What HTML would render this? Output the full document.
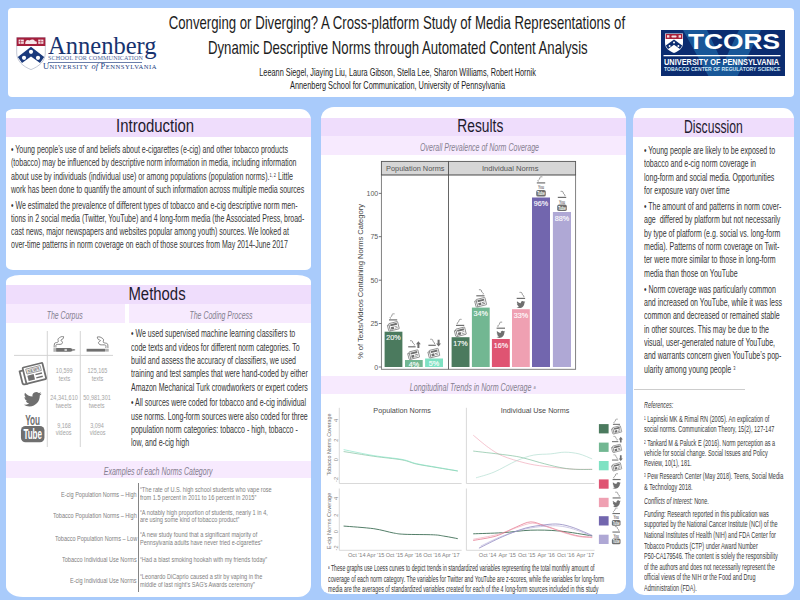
<!DOCTYPE html>
<html lang="en">
<head>
<meta charset="utf-8">
<title>Converging or Diverging? Poster</title>
<style>
html,body{margin:0;padding:0;}
body{width:800px;height:600px;overflow:hidden;background:#a9cbfb;position:relative;font-family:"Liberation Sans",sans-serif;color:#222;}
.panel{position:absolute;background:#fff;overflow:hidden;}
.band{position:absolute;background:#efddfc;}
.band2{position:absolute;background:#f7eafe;}
.t{position:absolute;white-space:nowrap;transform-origin:0 0;line-height:1;}
.ln{position:absolute;background:#bbb;}
sup{font-size:55%;vertical-align:baseline;position:relative;top:-.42em;line-height:0;}
svg{position:absolute;overflow:visible;}
</style>
</head>
<body>

<div class="panel" style="left:8px;top:8px;width:786px;height:89px;border-radius:4px;"></div>
<div class="panel" style="left:6.4px;top:109.2px;width:304.8px;height:160.8px;border-radius:9px 11px 6px 7px / 4px 11px 4px 5px;">
  <div class="band" style="left:0;right:0;top:8.7px;height:18.7px;"></div>
</div>
<div class="panel" style="left:6px;top:275.4px;width:305.2px;height:321.6px;border-radius:14px 14px 13px 17px / 7px 7px 12px 11px;">
  <div class="band" style="left:0;right:0;top:9.9px;height:18.7px;"></div>
  <div class="band2" style="left:0;width:119px;top:28.6px;height:19px;"></div>
  <div class="band2" style="left:123px;right:0;top:28.6px;height:19px;"></div>
  <div class="band2" style="left:0;right:0;top:185.5px;height:17.6px;"></div>
</div>
<div class="panel" style="left:321px;top:106.6px;width:305px;height:487.8px;border-radius:13px 14px 10px 10px / 12px 12px 10px 9px;">
  <div class="band" style="left:0;right:0;top:11.4px;height:18px;"></div>
  <div class="band2" style="left:0;right:0;top:29.4px;height:19.2px;"></div>
  <div class="band2" style="left:0;right:0;top:269.2px;height:18.7px;"></div>
</div>
<div class="panel" style="left:633.2px;top:107.5px;width:160.4px;height:487.1px;border-radius:10px 11px 12px 11px / 12px 11px 12px 10px;">
  <div class="band" style="left:0;right:0;top:10.8px;height:18.7px;"></div>
</div>
<div class="t" style="left:81.58px;top:14.39px;font-size:18.2px;transform:scaleX(0.7246);transform-origin:50% 0;color:#1c1c1c;">Converging or Diverging? A Cross-platform Study of Media Representations of</div>
<div class="t" style="left:136.20px;top:38.79px;font-size:18.2px;transform:scaleX(0.7252);transform-origin:50% 0;color:#1c1c1c;">Dynamic Descriptive Norms through Automated Content Analysis</div>
<div class="t" style="left:190.31px;top:67.29px;font-size:11px;transform:scaleX(0.6662);transform-origin:50% 0;color:#1c1c1c;">Leeann Siegel, Jiaying Liu, Laura Gibson, Stella Lee, Sharon Williams, Robert Hornik</div>
<div class="t" style="left:237.00px;top:79.89px;font-size:11px;transform:scaleX(0.6698);transform-origin:50% 0;color:#1c1c1c;">Annenberg School for Communication, University of Pennsylvania</div>

<!-- Annenberg logo -->
<svg style="left:16px;top:36px;" width="32" height="36" viewBox="0 0 32 36">
  <path d="M0.7 1.5 H29.3 V17 C29.3 25 23 30.5 15 33.6 C7 30.5 0.7 25 0.7 17 Z" fill="#fff" stroke="#aab2c4" stroke-width=".7"/>
  <path d="M0.7 1.5 H29.3 V10 H0.7 Z" fill="#a51f3c"/>
  <rect x="2.6" y="3.6" width="5.2" height="4.2" fill="#f6e6e9"/>
  <rect x="22.2" y="3.6" width="5.2" height="4.2" fill="#f6e6e9"/>
  <path d="M4.6 3.6 V7.8 M2.6 5.7 H7.8 M24.8 3.6 V7.8 M22.2 5.7 H27.4" stroke="#a51f3c" stroke-width=".6"/>
  <path d="M9.2 8 C9 4.6 11.5 3.2 13.6 4.6 C15.2 3 18.4 3.2 19 5.4 C20.4 4.6 21.4 6.2 20.6 8 Z" fill="#f6e6e9"/>
  <path d="M15 10.8 L28.2 21 L24 27 L15 20.6 L6 27 L1.8 21 Z" fill="#1b3a7c"/>
  <circle cx="15" cy="15.8" r="2.1" fill="#fff"/>
  <circle cx="8" cy="21.8" r="2.1" fill="#fff"/>
  <circle cx="22" cy="21.8" r="2.1" fill="#fff"/>
</svg>
<div class="t" style="left:47.5px;top:33.3px;font-family:'Liberation Serif',serif;font-size:25.7px;transform:scaleX(.955);color:#18336f;">Annenberg</div>
<div class="t" style="left:48px;top:56px;font-family:'Liberation Serif',serif;font-size:5.6px;transform:scaleX(1.1);color:#4d6499;letter-spacing:.1px;">SCHOOL FOR COMMUNICATION</div>
<div style="position:absolute;left:48px;top:61.7px;width:94px;height:.8px;background:#6a7eaa;"></div>
<div class="t" style="left:43px;top:62.8px;font-family:'Liberation Serif',serif;font-size:8.4px;color:#1b3c80;letter-spacing:.5px;">U<span style="font-size:6.6px">NIVERSITY</span> <i style="font-size:8.4px;letter-spacing:0">of</i> P<span style="font-size:6.6px">ENNSYLVANIA</span></div>

<!-- TCORS logo -->
<div style="position:absolute;left:661px;top:29.5px;width:123.5px;height:46.5px;background:#0b2c70;overflow:hidden;">
  <svg style="left:0;top:0;" width="124" height="47" viewBox="0 0 124 47">
    <path d="M22 0 L46 0 L62 34 L78 0 L100 0 L76 47 L48 47 Z" fill="#1c63a3" opacity=".8"/>
    <path d="M4 3.5 H22 V13 C22 18 18 21 13 23 C8 21 4 18 4 13 Z" fill="#fff"/>
    <path d="M4.6 4 H21.4 V9 H4.6 Z" fill="#a8203a"/>
    <path d="M13 9.6 L21.2 15.6 L19 19 L13 14.8 L7 19 L4.8 15.6 Z" fill="#0b2c70"/>
    <circle cx="13" cy="12.4" r="1" fill="#fff"/><circle cx="8.6" cy="16" r="1" fill="#fff"/><circle cx="17.4" cy="16" r="1" fill="#fff"/>
    <rect x="6" y="5.2" width="2.4" height="2.4" fill="#f4dfe2"/><rect x="17.6" y="5.2" width="2.4" height="2.4" fill="#f4dfe2"/><rect x="10.4" y="5.4" width="5.2" height="2.2" rx="1" fill="#f4dfe2"/>
    <rect x="2.5" y="25" width="117" height="1.3" fill="#fff"/>
  </svg>
  <div class="t" style="left:26.5px;top:1px;font-size:22.5px;font-weight:bold;color:#fff;transform:scaleX(1.17);">TCORS</div>
  <div class="t" style="left:2.6px;top:28.9px;font-size:8.4px;font-weight:bold;color:#fff;transform:scaleX(.881);">UNIVERSITY OF PENNSYLVANIA</div>
  <div class="t" style="left:3px;top:37.7px;font-size:5.4px;font-weight:bold;color:#d0e8f7;transform:scaleX(.94);">TOBACCO CENTER OF REGULATORY SCIENCE</div>
</div>
<div class="t" style="left:106.08px;top:117.49px;font-size:18.8px;transform:scaleX(0.7940);transform-origin:50% 0;color:#1e1a2e;">Introduction</div>
<div class="t" style="left:120.95px;top:284.69px;font-size:18.8px;transform:scaleX(0.7933);transform-origin:50% 0;color:#1e1a2e;">Methods</div>
<div class="t" style="left:449.26px;top:117.29px;font-size:18.8px;transform:scaleX(0.7338);transform-origin:50% 0;color:#1e1a2e;">Results</div>
<div class="t" style="left:667.95px;top:117.69px;font-size:18.8px;transform:scaleX(0.6469);transform-origin:50% 0;color:#1e1a2e;">Discussion</div>
<div class="t" style="left:11.00px;top:144.78px;font-size:10.3px;transform:scaleX(0.6843);color:#363636;">&#8226; Young people&#8217;s use of and beliefs about e-cigarettes (e-cig) and other tobacco products</div>
<div class="t" style="left:11.00px;top:158.18px;font-size:10.3px;transform:scaleX(0.6843);color:#363636;">(tobacco) may be influenced by descriptive norm information in media, including information</div>
<div class="t" style="left:11.00px;top:171.58px;font-size:10.3px;transform:scaleX(0.6884);color:#363636;">about use by individuals (individual use) or among populations (population norms).<sup>1, 2</sup> Little</div>
<div class="t" style="left:11.00px;top:184.78px;font-size:10.3px;transform:scaleX(0.6842);color:#363636;">work has been done to quantify the amount of such information across multiple media sources</div>
<div class="t" style="left:11.00px;top:201.18px;font-size:10.3px;transform:scaleX(0.6842);color:#363636;">&#8226; We estimated the prevalence of different types of tobacco and e-cig descriptive norm men-</div>
<div class="t" style="left:11.00px;top:214.18px;font-size:10.3px;transform:scaleX(0.6812);color:#363636;">tions in 2 social media (Twitter, YouTube) and 4 long-form media (the Associated Press, broad-</div>
<div class="t" style="left:11.00px;top:227.18px;font-size:10.3px;transform:scaleX(0.6842);color:#363636;">cast news, major newspapers and websites popular among youth) sources. We looked at</div>
<div class="t" style="left:11.00px;top:240.18px;font-size:10.3px;transform:scaleX(0.6814);color:#363636;">over-time patterns in norm coverage on each of those sources from May 2014-June 2017</div>
<div class="t" style="left:37.31px;top:310.33px;font-size:10.6px;transform:scaleX(0.6500);transform-origin:50% 0;color:#857f90;font-style:italic;">The Corpus</div>
<div class="t" style="left:173.48px;top:310.33px;font-size:10.6px;transform:scaleX(0.6560);transform-origin:50% 0;color:#857f90;font-style:italic;">The Coding Process</div>
<div class="t" style="left:75.62px;top:465.53px;font-size:10.6px;transform:scaleX(0.6619);transform-origin:50% 0;color:#857f90;font-style:italic;">Examples of each Norms Category</div>
<div class="t" style="left:131.20px;top:329.18px;font-size:10.3px;transform:scaleX(0.6834);color:#363636;">&#8226; We used supervised machine learning classifiers to</div>
<div class="t" style="left:131.20px;top:342.58px;font-size:10.3px;transform:scaleX(0.6819);color:#363636;">code texts and videos for different norm categories. To</div>
<div class="t" style="left:131.20px;top:355.88px;font-size:10.3px;transform:scaleX(0.6832);color:#363636;">build and assess the accuracy of classifiers, we used</div>
<div class="t" style="left:131.20px;top:369.18px;font-size:10.3px;transform:scaleX(0.6816);color:#363636;">training and test samples that were hand-coded by either</div>
<div class="t" style="left:131.20px;top:382.58px;font-size:10.3px;transform:scaleX(0.6818);color:#363636;">Amazon Mechanical Turk crowdworkers or expert coders</div>
<div class="t" style="left:131.20px;top:398.48px;font-size:10.3px;transform:scaleX(0.6805);color:#363636;">&#8226; All sources were coded for tobacco and e-cig individual</div>
<div class="t" style="left:131.20px;top:411.68px;font-size:10.3px;transform:scaleX(0.6832);color:#363636;">use norms. Long-form sources were also coded for three</div>
<div class="t" style="left:131.20px;top:424.78px;font-size:10.3px;transform:scaleX(0.6871);color:#363636;">population norm categories: tobacco - high, tobacco -</div>
<div class="t" style="left:131.20px;top:437.98px;font-size:10.3px;transform:scaleX(0.6804);color:#363636;">low, and e-cig high</div>
<div class="t" style="left:51.77px;top:367.03px;font-size:8px;transform:scaleX(0.6850);transform-origin:50% 0;color:#a4a4a4;">10,599</div>
<div class="t" style="left:55.55px;top:374.63px;font-size:8px;transform:scaleX(0.6850);transform-origin:50% 0;color:#a4a4a4;">texts</div>
<div class="t" style="left:82.84px;top:367.03px;font-size:8px;transform:scaleX(0.6850);transform-origin:50% 0;color:#a4a4a4;">125,165</div>
<div class="t" style="left:88.85px;top:374.63px;font-size:8px;transform:scaleX(0.6850);transform-origin:50% 0;color:#a4a4a4;">texts</div>
<div class="t" style="left:43.98px;top:393.83px;font-size:8px;transform:scaleX(0.6850);transform-origin:50% 0;color:#a4a4a4;">24,341,610</div>
<div class="t" style="left:52.44px;top:402.03px;font-size:8px;transform:scaleX(0.6850);transform-origin:50% 0;color:#a4a4a4;">tweets</div>
<div class="t" style="left:76.58px;top:393.83px;font-size:8px;transform:scaleX(0.6850);transform-origin:50% 0;color:#a4a4a4;">50,981,301</div>
<div class="t" style="left:85.04px;top:402.03px;font-size:8px;transform:scaleX(0.6850);transform-origin:50% 0;color:#a4a4a4;">tweets</div>
<div class="t" style="left:53.99px;top:421.63px;font-size:8px;transform:scaleX(0.6850);transform-origin:50% 0;color:#a4a4a4;">9,168</div>
<div class="t" style="left:52.44px;top:429.43px;font-size:8px;transform:scaleX(0.6850);transform-origin:50% 0;color:#a4a4a4;">videos</div>
<div class="t" style="left:87.29px;top:421.63px;font-size:8px;transform:scaleX(0.6850);transform-origin:50% 0;color:#a4a4a4;">3,094</div>
<div class="t" style="left:85.74px;top:429.43px;font-size:8px;transform:scaleX(0.6850);transform-origin:50% 0;color:#a4a4a4;">videos</div>
<div class="t" style="left:61.10px;top:490.57px;font-size:7.6px;transform:scaleX(0.7285);color:#808080;">E-cig Population Norms &#8211; High</div>
<div class="t" style="left:53.00px;top:512.47px;font-size:7.6px;transform:scaleX(0.7293);color:#808080;">Tobacco Population Norms &#8211; High</div>
<div class="t" style="left:54.60px;top:535.27px;font-size:7.6px;transform:scaleX(0.7260);color:#808080;">Tobacco Population Norms &#8211; Low</div>
<div class="t" style="left:62.10px;top:555.97px;font-size:7.6px;transform:scaleX(0.7278);color:#808080;">Tobacco Individual Use Norms</div>
<div class="t" style="left:70.20px;top:577.47px;font-size:7.6px;transform:scaleX(0.7267);color:#808080;">E-cig Individual Use Norms</div>
<div class="t" style="left:139.60px;top:486.07px;font-size:7.6px;transform:scaleX(0.7358);color:#808080;">&#8220;The rate of U.S. high school students who vape rose</div>
<div class="t" style="left:139.60px;top:493.77px;font-size:7.6px;transform:scaleX(0.7373);color:#808080;">from 1.5 percent in 2011 to 16 percent in 2015&#8221;</div>
<div class="t" style="left:139.60px;top:508.87px;font-size:7.6px;transform:scaleX(0.7366);color:#808080;">&#8220;A notably high proportion of students, nearly 1 in 4,</div>
<div class="t" style="left:139.60px;top:516.07px;font-size:7.6px;transform:scaleX(0.7353);color:#808080;">are using some kind of tobacco product&#8221;</div>
<div class="t" style="left:139.60px;top:530.97px;font-size:7.6px;transform:scaleX(0.7391);color:#808080;">&#8220;A new study found that a significant majority of</div>
<div class="t" style="left:139.60px;top:538.87px;font-size:7.6px;transform:scaleX(0.7262);color:#808080;">Pennsylvania adults have never tried e-cigarettes&#8221;</div>
<div class="t" style="left:139.60px;top:555.97px;font-size:7.6px;transform:scaleX(0.7291);color:#808080;">&#8220;Had a blast smoking hookah with my friends today&#8221;</div>
<div class="t" style="left:139.60px;top:573.37px;font-size:7.6px;transform:scaleX(0.7335);color:#808080;">&#8220;Leonardo DiCaprio caused a stir by vaping in the</div>
<div class="t" style="left:139.60px;top:581.07px;font-size:7.6px;transform:scaleX(0.7312);color:#808080;">middle of last night&#8217;s SAG&#8217;s Awards ceremony&#8221;</div>
<div class="ln" style="left:137.8px;top:482.5px;width:.9px;height:109.5px;background:#858585;"></div>
<div class="t" style="left:390.45px;top:142.33px;font-size:10.6px;transform:scaleX(0.6644);transform-origin:50% 0;color:#857f90;font-style:italic;">Overall Prevalence of Norm Coverage</div>
<div class="t" style="left:379.27px;top:382.03px;font-size:10.6px;transform:scaleX(0.6721);transform-origin:50% 0;color:#857f90;font-style:italic;">Longitudinal Trends in Norm Coverage <sup>a</sup></div>
<div class="t" style="left:327.70px;top:564.07px;font-size:8.3px;transform:scaleX(0.6252);color:#333;"><sup>a</sup> These graphs use Loess curves to depict trends in standardized variables representing the total monthly amount of</div>
<div class="t" style="left:327.70px;top:574.57px;font-size:8.3px;transform:scaleX(0.6389);color:#333;">coverage of each norm category. The variables for Twitter and YouTube are z-scores, while the variables for long-form</div>
<div class="t" style="left:327.70px;top:584.57px;font-size:8.3px;transform:scaleX(0.6408);color:#333;">media are the averages of standardized variables created for each of the 4 long-form sources included in this study</div>
<div class="t" style="left:643.60px;top:146.18px;font-size:10.3px;transform:scaleX(0.6848);color:#363636;">&#8226; Young people are likely to be exposed to</div>
<div class="t" style="left:643.60px;top:159.38px;font-size:10.3px;transform:scaleX(0.6840);color:#363636;">tobacco and e-cig norm coverage in</div>
<div class="t" style="left:643.60px;top:172.68px;font-size:10.3px;transform:scaleX(0.6840);color:#363636;">long-form and social media. Opportunities</div>
<div class="t" style="left:643.60px;top:185.88px;font-size:10.3px;transform:scaleX(0.6859);color:#363636;">for exposure vary over time</div>
<div class="t" style="left:643.60px;top:201.98px;font-size:10.3px;transform:scaleX(0.6823);color:#363636;">&#8226; The amount of and patterns in norm cover-</div>
<div class="t" style="left:643.60px;top:215.38px;font-size:10.3px;transform:scaleX(0.6833);color:#363636;">age&nbsp; differed by platform but not necessarily</div>
<div class="t" style="left:643.60px;top:228.68px;font-size:10.3px;transform:scaleX(0.6827);color:#363636;">by type of platform (e.g. social vs. long-form</div>
<div class="t" style="left:643.60px;top:241.98px;font-size:10.3px;transform:scaleX(0.6862);color:#363636;">media). Patterns of norm coverage on Twit-</div>
<div class="t" style="left:643.60px;top:255.28px;font-size:10.3px;transform:scaleX(0.6827);color:#363636;">ter were more similar to those in long-form</div>
<div class="t" style="left:643.60px;top:268.68px;font-size:10.3px;transform:scaleX(0.6858);color:#363636;">media than those on YouTube</div>
<div class="t" style="left:643.60px;top:284.98px;font-size:10.3px;transform:scaleX(0.6832);color:#363636;">&#8226; Norm coverage was particularly common</div>
<div class="t" style="left:643.60px;top:298.18px;font-size:10.3px;transform:scaleX(0.6840);color:#363636;">and increased on YouTube, while it was less</div>
<div class="t" style="left:643.60px;top:311.48px;font-size:10.3px;transform:scaleX(0.6835);color:#363636;">common and decreased or remained stable</div>
<div class="t" style="left:643.60px;top:324.78px;font-size:10.3px;transform:scaleX(0.6808);color:#363636;">in other sources. This may be due to the</div>
<div class="t" style="left:643.60px;top:338.08px;font-size:10.3px;transform:scaleX(0.6848);color:#363636;">visual, user-generated nature of YouTube,</div>
<div class="t" style="left:643.60px;top:351.38px;font-size:10.3px;transform:scaleX(0.6856);color:#363636;">and warrants concern given YouTube&#8217;s pop-</div>
<div class="t" style="left:643.60px;top:364.68px;font-size:10.3px;transform:scaleX(0.6895);color:#363636;">ularity among young people <sup>3</sup></div>
<div class="ln" style="left:634px;top:388.8px;width:111px;height:1px;background:#cdcdcd;"></div>
<div class="t" style="left:644.00px;top:401.29px;font-size:8.4px;transform:scaleX(0.6469);color:#3a3a3a;font-style:italic;">References:</div>
<div class="t" style="left:644.00px;top:414.69px;font-size:8.4px;transform:scaleX(0.6640);color:#3a3a3a;"><sup>1</sup> Lapinski MK &amp; Rimal RN (2005). An explication of</div>
<div class="t" style="left:644.00px;top:425.19px;font-size:8.4px;transform:scaleX(0.6613);color:#3a3a3a;">social norms. Communication Theory, 15(2), 127-147</div>
<div class="t" style="left:644.00px;top:438.59px;font-size:8.4px;transform:scaleX(0.6609);color:#3a3a3a;"><sup>2</sup> Tankard M &amp; Paluck E (2016). Norm perception as a</div>
<div class="t" style="left:644.00px;top:448.99px;font-size:8.4px;transform:scaleX(0.6633);color:#3a3a3a;">vehicle for social change. Social Issues and Policy</div>
<div class="t" style="left:644.00px;top:459.29px;font-size:8.4px;transform:scaleX(0.6591);color:#3a3a3a;">Review, 10(1), 181.</div>
<div class="t" style="left:644.00px;top:472.19px;font-size:8.4px;transform:scaleX(0.6603);color:#3a3a3a;"><sup>3</sup> Pew Research Center (May 2018). Teens, Social Media</div>
<div class="t" style="left:644.00px;top:482.89px;font-size:8.4px;transform:scaleX(0.6627);color:#3a3a3a;">&amp; Technology 2018.</div>
<div class="t" style="left:644.00px;top:496.59px;font-size:8.4px;transform:scaleX(0.6567);color:#3a3a3a;"><i>Conflicts of Interest:</i> None.</div>
<div class="t" style="left:644.00px;top:509.79px;font-size:8.4px;transform:scaleX(0.6637);color:#3a3a3a;"><i>Funding:</i> Research reported in this publication was</div>
<div class="t" style="left:644.00px;top:520.49px;font-size:8.4px;transform:scaleX(0.6618);color:#3a3a3a;">supported by the National Cancer Institute (NCI) of the</div>
<div class="t" style="left:644.00px;top:531.09px;font-size:8.4px;transform:scaleX(0.6616);color:#3a3a3a;">National Institutes of Health (NIH) and FDA Center for</div>
<div class="t" style="left:644.00px;top:541.69px;font-size:8.4px;transform:scaleX(0.6593);color:#3a3a3a;">Tobacco Products (CTP) under Award Number</div>
<div class="t" style="left:644.00px;top:552.29px;font-size:8.4px;transform:scaleX(0.6592);color:#3a3a3a;">P50-CA179546. The content is solely the responsibility</div>
<div class="t" style="left:644.00px;top:562.89px;font-size:8.4px;transform:scaleX(0.6606);color:#3a3a3a;">of the authors and does not necessarily represent the</div>
<div class="t" style="left:644.00px;top:573.29px;font-size:8.4px;transform:scaleX(0.6603);color:#3a3a3a;">official views of the NIH or the Food and Drug</div>
<div class="t" style="left:644.00px;top:583.69px;font-size:8.4px;transform:scaleX(0.6602);color:#3a3a3a;">Administration (FDA).</div>
<svg style="left:0;top:0;" width="800" height="600" viewBox="0 0 800 600" font-family="Liberation Sans, sans-serif"><rect x="46.8" y="331" width=".9" height="116" fill="#cfcfcf"/><rect x="79.8" y="331" width=".9" height="116" fill="#cfcfcf"/><rect x="14" y="354.9" width="99" height=".9" fill="#cfcfcf"/><g transform="translate(53.70 351.80) scale(1.0000)"><rect x="0" y="-3.7" width=".7" height="3.7" fill="#6f6f6f"/><rect x="1.1" y="-3.7" width=".7" height="3.7" fill="#6f6f6f"/><path d="M2.4 -3.7 H16.6 L19 -2.9 V-.8 L16.6 0 H2.4 Z" fill="#6f6f6f"/><rect x="10.8" y="-2.9" width="2.4" height="2.1" fill="#cfcfcf"/><path d="M19.4 -2.7 L21.5 -2.2 V-1.5 L19.4 -1 Z" fill="#6f6f6f"/><path d="M0.5 -4.7 C0.6 -5.3 0.3 -7.6 0.9 -8.5 C1.6 -9.3 3.8 -9.1 4.4 -9.8 C5.0 -10.5 3.9 -12.0 4.4 -12.9 C4.9 -13.7 6.6 -14.7 7.5 -15.1 C8.4 -15.4 9.3 -15.1 9.7 -15.1" fill="none" stroke="#6f6f6f" stroke-width="0.85" stroke-linecap="round"/><path d="M2.3 -4.7 C2.4 -5.1 1.8 -6.7 2.7 -7.2 C3.5 -7.7 6.5 -7.2 7.5 -7.6 C8.5 -8.0 8.9 -9.1 8.8 -9.8 C8.7 -10.5 7.0 -11.0 7.0 -11.6 C7.1 -12.1 8.8 -12.4 9.2 -12.9 C9.7 -13.4 9.7 -14.3 9.8 -14.6" fill="none" stroke="#6f6f6f" stroke-width="0.85" stroke-linecap="round"/></g><g transform="translate(86.60 351.60) scale(1.0000)"><rect x="0" y="-2.8" width="18.4" height="2.8" fill="#6f6f6f"/><rect x="18.9" y="-2.8" width=".8" height="2.8" fill="#6f6f6f"/><rect x="20.1" y="-2.8" width=".7" height="2.8" fill="#6f6f6f"/><rect x="21.2" y="-2.8" width=".6" height="2.8" fill="#6f6f6f"/><path d="M21.3 -3.9 C21.2 -4.6 21.5 -7.0 20.8 -7.8 C20.0 -8.7 17.5 -8.4 16.8 -9.2 C16.2 -9.9 17.4 -11.4 16.8 -12.3 C16.3 -13.2 14.4 -14.2 13.4 -14.6 C12.4 -15.0 11.4 -14.6 11.0 -14.6" fill="none" stroke="#6f6f6f" stroke-width="0.85" stroke-linecap="round"/><path d="M19.2 -3.9 C19.2 -4.4 19.8 -6.0 18.8 -6.5 C17.8 -7.0 14.6 -6.5 13.4 -6.9 C12.3 -7.4 11.9 -8.5 11.9 -9.2 C12.0 -9.9 14.0 -10.5 13.9 -11.0 C13.8 -11.5 12.0 -11.8 11.5 -12.3 C10.9 -12.9 10.9 -13.8 10.8 -14.1" fill="none" stroke="#6f6f6f" stroke-width="0.85" stroke-linecap="round"/></g><g transform="translate(32.60 373.80) rotate(-14) scale(0.9286) translate(-14 -10)"><path d="M1 4 H6 V19 H3 C1.8 19 1 18.2 1 17 Z" fill="#fff" stroke="#6f6f6f" stroke-width="1.9" stroke-linejoin="round"/><rect x="5" y="1" width="22" height="18" rx="1" fill="#fff" stroke="#6f6f6f" stroke-width="1.9"/><rect x="8" y="3.4" width="16" height="5.4" fill="#fff" stroke="#6f6f6f" stroke-width=".7"/><text x="16" y="7.9" font-size="5" font-weight="bold" font-style="italic" fill="#6f6f6f" text-anchor="middle" font-family="Liberation Sans, sans-serif" textLength="13.6" lengthAdjust="spacingAndGlyphs">NEWS</text><rect x="8" y="10.6" width="7" height="6" fill="#6f6f6f"/><rect x="16.8" y="10.8" width="7.2" height="1.6" fill="#6f6f6f"/><rect x="16.8" y="14.4" width="7.2" height="1.6" fill="#6f6f6f"/></g><g transform="translate(32.70 399.20) rotate(0) scale(0.7417) translate(-12 -12)"><path d="M23.953 4.57a10 10 0 01-2.825.775 4.958 4.958 0 002.163-2.723c-.951.555-2.005.959-3.127 1.184a4.92 4.92 0 00-8.384 4.482C7.69 8.095 4.067 6.13 1.64 3.162a4.822 4.822 0 00-.666 2.475c0 1.71.87 3.213 2.188 4.096a4.904 4.904 0 01-2.228-.616v.06a4.923 4.923 0 003.946 4.827 4.996 4.996 0 01-2.212.085 4.936 4.936 0 004.604 3.417 9.867 9.867 0 01-6.102 2.105c-.39 0-.779-.023-1.17-.067a13.995 13.995 0 007.557 2.209c9.053 0 13.998-7.496 13.998-13.985 0-.21 0-.42-.015-.63A9.935 9.935 0 0024 4.59z" fill="#6f6f6f"/></g><g transform="translate(32.70 428.40) rotate(0) scale(0.9792) translate(-12 -14.2)"><text x="12" y="10.4" font-size="14.6" font-weight="bold" fill="#6f6f6f" text-anchor="middle" font-family="Liberation Sans, sans-serif" textLength="15.2" lengthAdjust="spacingAndGlyphs">You</text><rect x="0" y="11.8" width="24" height="16.6" rx="4.6" fill="#6f6f6f"/><text x="12" y="25.4" font-size="14.2" font-weight="bold" fill="#fff" text-anchor="middle" font-family="Liberation Sans, sans-serif" textLength="19" lengthAdjust="spacingAndGlyphs">Tube</text></g><rect x="381.4" y="174.9" width="194.2" height="194.4" fill="#fff" stroke="#757575" stroke-width=".9"/><rect x="381.4" y="161.4" width="67.1" height="13.5" fill="#d6d6d6" stroke="#555" stroke-width=".9"/><rect x="448.5" y="161.4" width="127.1" height="13.5" fill="#d6d6d6" stroke="#555" stroke-width=".9"/><rect x="448.1" y="174.9" width=".9" height="194.4" fill="#555"/><text x="415.3" y="171" font-size="7.4" fill="#555" text-anchor="middle" textLength="58.5" lengthAdjust="spacingAndGlyphs">Population Norms</text><text x="510.2" y="171" font-size="7.4" fill="#555" text-anchor="middle" textLength="56.5" lengthAdjust="spacingAndGlyphs">Individual Norms</text><rect x="378.8" y="366.60" width="2.6" height=".8" fill="#555"/><text x="378.2" y="369.60" font-size="7" fill="#5a5a5a" text-anchor="end">0</text><rect x="378.8" y="323.18" width="2.6" height=".8" fill="#555"/><text x="378.2" y="326.18" font-size="7" fill="#5a5a5a" text-anchor="end">25</text><rect x="378.8" y="279.75" width="2.6" height=".8" fill="#555"/><text x="378.2" y="282.75" font-size="7" fill="#5a5a5a" text-anchor="end">50</text><rect x="378.8" y="236.32" width="2.6" height=".8" fill="#555"/><text x="378.2" y="239.32" font-size="7" fill="#5a5a5a" text-anchor="end">75</text><rect x="378.8" y="192.90" width="2.6" height=".8" fill="#555"/><text x="378.2" y="195.90" font-size="7" fill="#5a5a5a" text-anchor="end">100</text><text transform="translate(363.3 281.5) rotate(-90)" font-size="7.6" fill="#444" text-anchor="middle" textLength="155" lengthAdjust="spacingAndGlyphs">% of Texts/Videos Containing Norms Category</text><rect x="384.6" y="331.7" width="17.80" height="35.30" fill="#4b7a5e"/><text x="393.50" y="340.40" font-size="7.2" fill="#fff" fill-opacity=".95" stroke="#fff" stroke-width=".15" text-anchor="middle">20%</text><rect x="405" y="360" width="17.70" height="7.00" fill="#72b792"/><text x="413.85" y="367.40" font-size="7.2" fill="#fff" fill-opacity=".95" stroke="#fff" stroke-width=".15" text-anchor="middle">4%</text><rect x="425.1" y="358.5" width="17.90" height="8.50" fill="#7fe2c3"/><text x="434.05" y="365.90" font-size="7.2" fill="#fff" fill-opacity=".95" stroke="#fff" stroke-width=".15" text-anchor="middle">5%</text><rect x="451.6" y="337.2" width="17.90" height="29.80" fill="#4b7a5e"/><text x="460.55" y="345.90" font-size="7.2" fill="#fff" fill-opacity=".95" stroke="#fff" stroke-width=".15" text-anchor="middle">17%</text><rect x="471.9" y="307.6" width="17.80" height="59.40" fill="#72b792"/><text x="480.80" y="316.30" font-size="7.2" fill="#fff" fill-opacity=".95" stroke="#fff" stroke-width=".15" text-anchor="middle">34%</text><rect x="491.9" y="339" width="17.90" height="28.00" fill="#df5472"/><text x="500.85" y="347.70" font-size="7.2" fill="#fff" fill-opacity=".95" stroke="#fff" stroke-width=".15" text-anchor="middle">16%</text><rect x="512" y="309.2" width="17.80" height="57.80" fill="#efa0b2"/><text x="520.90" y="317.90" font-size="7.2" fill="#fff" fill-opacity=".95" stroke="#fff" stroke-width=".15" text-anchor="middle">33%</text><rect x="532" y="197.5" width="18.00" height="169.50" fill="#7266ae"/><text x="541.00" y="206.20" font-size="7.2" fill="#fff" fill-opacity=".95" stroke="#fff" stroke-width=".15" text-anchor="middle">96%</text><rect x="552.9" y="212" width="18.10" height="155.00" fill="#afa8d5"/><text x="561.95" y="220.70" font-size="7.2" fill="#fff" fill-opacity=".95" stroke="#fff" stroke-width=".15" text-anchor="middle">88%</text><g transform="translate(393.20 326.40) rotate(-14) scale(0.4143) translate(-14 -10)"><path d="M1 4 H6 V19 H3 C1.8 19 1 18.2 1 17 Z" fill="#fff" stroke="#6f6f6f" stroke-width="1.7" stroke-linejoin="round"/><rect x="5" y="1" width="22" height="18" rx="1" fill="#fff" stroke="#6f6f6f" stroke-width="1.7"/><rect x="7.8" y="3.6" width="16.4" height="4.6" fill="#6f6f6f"/><rect x="8" y="10.6" width="7" height="6" fill="#6f6f6f"/><rect x="16.8" y="10.8" width="7.2" height="1.6" fill="#6f6f6f"/><rect x="16.8" y="14.4" width="7.2" height="1.6" fill="#6f6f6f"/></g><g transform="translate(393.10 319.90) scale(1 1)"><rect x="-4.10" y="-.6" width="8.20" height="1.2" fill="#6f6f6f"/><path d="M-2.90 -1.6 c-1.2 -1.4 2.3 -1.6 1.8 -3.2 c-.3 -.9 1 -1.5 2.2 -1.3" fill="none" stroke="#6f6f6f" stroke-width=".7" stroke-linecap="round"/></g><g transform="translate(413.50 354.70) rotate(-14) scale(0.4143) translate(-14 -10)"><path d="M1 4 H6 V19 H3 C1.8 19 1 18.2 1 17 Z" fill="#fff" stroke="#6f6f6f" stroke-width="1.7" stroke-linejoin="round"/><rect x="5" y="1" width="22" height="18" rx="1" fill="#fff" stroke="#6f6f6f" stroke-width="1.7"/><rect x="7.8" y="3.6" width="16.4" height="4.6" fill="#6f6f6f"/><rect x="8" y="10.6" width="7" height="6" fill="#6f6f6f"/><rect x="16.8" y="10.8" width="7.2" height="1.6" fill="#6f6f6f"/><rect x="16.8" y="14.4" width="7.2" height="1.6" fill="#6f6f6f"/></g><g transform="translate(411.90 346.80) scale(-1 1)"><rect x="-3.70" y="-.6" width="7.40" height="1.2" fill="#6f6f6f"/><path d="M-2.50 -1.6 c-1.2 -1.4 2.3 -1.6 1.8 -3.2 c-.3 -.9 1 -1.5 2.2 -1.3" fill="none" stroke="#6f6f6f" stroke-width=".7" stroke-linecap="round"/></g><g transform="translate(418.40 344.60) rotate(0)"><path d="M0 -3.4 L2.4 -.3 H1 V3.3 H-1 V-.3 H-2.4 Z" fill="#6f6f6f"/></g><g transform="translate(433.70 353.20) rotate(-14) scale(0.4143) translate(-14 -10)"><path d="M1 4 H6 V19 H3 C1.8 19 1 18.2 1 17 Z" fill="#fff" stroke="#6f6f6f" stroke-width="1.7" stroke-linejoin="round"/><rect x="5" y="1" width="22" height="18" rx="1" fill="#fff" stroke="#6f6f6f" stroke-width="1.7"/><rect x="7.8" y="3.6" width="16.4" height="4.6" fill="#6f6f6f"/><rect x="8" y="10.6" width="7" height="6" fill="#6f6f6f"/><rect x="16.8" y="10.8" width="7.2" height="1.6" fill="#6f6f6f"/><rect x="16.8" y="14.4" width="7.2" height="1.6" fill="#6f6f6f"/></g><g transform="translate(432.10 345.30) scale(-1 1)"><rect x="-3.70" y="-.6" width="7.40" height="1.2" fill="#6f6f6f"/><path d="M-2.50 -1.6 c-1.2 -1.4 2.3 -1.6 1.8 -3.2 c-.3 -.9 1 -1.5 2.2 -1.3" fill="none" stroke="#6f6f6f" stroke-width=".7" stroke-linecap="round"/></g><g transform="translate(438.60 343.10) rotate(180)"><path d="M0 -3.4 L2.4 -.3 H1 V3.3 H-1 V-.3 H-2.4 Z" fill="#6f6f6f"/></g><g transform="translate(460.20 331.90) rotate(-14) scale(0.4143) translate(-14 -10)"><path d="M1 4 H6 V19 H3 C1.8 19 1 18.2 1 17 Z" fill="#fff" stroke="#6f6f6f" stroke-width="1.7" stroke-linejoin="round"/><rect x="5" y="1" width="22" height="18" rx="1" fill="#fff" stroke="#6f6f6f" stroke-width="1.7"/><rect x="7.8" y="3.6" width="16.4" height="4.6" fill="#6f6f6f"/><rect x="8" y="10.6" width="7" height="6" fill="#6f6f6f"/><rect x="16.8" y="10.8" width="7.2" height="1.6" fill="#6f6f6f"/><rect x="16.8" y="14.4" width="7.2" height="1.6" fill="#6f6f6f"/></g><g transform="translate(460.10 325.40) scale(1 1)"><rect x="-4.10" y="-.6" width="8.20" height="1.2" fill="#6f6f6f"/><path d="M-2.90 -1.6 c-1.2 -1.4 2.3 -1.6 1.8 -3.2 c-.3 -.9 1 -1.5 2.2 -1.3" fill="none" stroke="#6f6f6f" stroke-width=".7" stroke-linecap="round"/></g><g transform="translate(480.50 302.30) rotate(-14) scale(0.4143) translate(-14 -10)"><path d="M1 4 H6 V19 H3 C1.8 19 1 18.2 1 17 Z" fill="#fff" stroke="#6f6f6f" stroke-width="1.7" stroke-linejoin="round"/><rect x="5" y="1" width="22" height="18" rx="1" fill="#fff" stroke="#6f6f6f" stroke-width="1.7"/><rect x="7.8" y="3.6" width="16.4" height="4.6" fill="#6f6f6f"/><rect x="8" y="10.6" width="7" height="6" fill="#6f6f6f"/><rect x="16.8" y="10.8" width="7.2" height="1.6" fill="#6f6f6f"/><rect x="16.8" y="14.4" width="7.2" height="1.6" fill="#6f6f6f"/></g><g transform="translate(480.40 295.80) scale(-1 1)"><rect x="-4.10" y="-.6" width="8.20" height="1.2" fill="#6f6f6f"/><path d="M-2.90 -1.6 c-1.2 -1.4 2.3 -1.6 1.8 -3.2 c-.3 -.9 1 -1.5 2.2 -1.3" fill="none" stroke="#6f6f6f" stroke-width=".7" stroke-linecap="round"/></g><g transform="translate(500.80 334.30) rotate(0) scale(0.3667) translate(-12 -12)"><path d="M23.953 4.57a10 10 0 01-2.825.775 4.958 4.958 0 002.163-2.723c-.951.555-2.005.959-3.127 1.184a4.92 4.92 0 00-8.384 4.482C7.69 8.095 4.067 6.13 1.64 3.162a4.822 4.822 0 00-.666 2.475c0 1.71.87 3.213 2.188 4.096a4.904 4.904 0 01-2.228-.616v.06a4.923 4.923 0 003.946 4.827 4.996 4.996 0 01-2.212.085 4.936 4.936 0 004.604 3.417 9.867 9.867 0 01-6.102 2.105c-.39 0-.779-.023-1.17-.067a13.995 13.995 0 007.557 2.209c9.053 0 13.998-7.496 13.998-13.985 0-.21 0-.42-.015-.63A9.935 9.935 0 0024 4.59z" fill="#6f6f6f"/></g><g transform="translate(500.80 328.20) scale(1 1)"><rect x="-4.20" y="-.6" width="8.40" height="1.2" fill="#6f6f6f"/><path d="M-3.00 -1.6 c-1.2 -1.4 2.3 -1.6 1.8 -3.2 c-.3 -.9 1 -1.5 2.2 -1.3" fill="none" stroke="#6f6f6f" stroke-width=".7" stroke-linecap="round"/></g><g transform="translate(520.90 304.50) rotate(0) scale(0.3667) translate(-12 -12)"><path d="M23.953 4.57a10 10 0 01-2.825.775 4.958 4.958 0 002.163-2.723c-.951.555-2.005.959-3.127 1.184a4.92 4.92 0 00-8.384 4.482C7.69 8.095 4.067 6.13 1.64 3.162a4.822 4.822 0 00-.666 2.475c0 1.71.87 3.213 2.188 4.096a4.904 4.904 0 01-2.228-.616v.06a4.923 4.923 0 003.946 4.827 4.996 4.996 0 01-2.212.085 4.936 4.936 0 004.604 3.417 9.867 9.867 0 01-6.102 2.105c-.39 0-.779-.023-1.17-.067a13.995 13.995 0 007.557 2.209c9.053 0 13.998-7.496 13.998-13.985 0-.21 0-.42-.015-.63A9.935 9.935 0 0024 4.59z" fill="#6f6f6f"/></g><g transform="translate(520.90 298.40) scale(-1 1)"><rect x="-4.20" y="-.6" width="8.40" height="1.2" fill="#6f6f6f"/><path d="M-3.00 -1.6 c-1.2 -1.4 2.3 -1.6 1.8 -3.2 c-.3 -.9 1 -1.5 2.2 -1.3" fill="none" stroke="#6f6f6f" stroke-width=".7" stroke-linecap="round"/></g><g transform="translate(541.00 190.90) rotate(0) scale(0.4000) translate(-12 -14.2)"><text x="12" y="10.4" font-size="14.6" font-weight="bold" fill="#6f6f6f" text-anchor="middle" font-family="Liberation Sans, sans-serif" textLength="15.2" lengthAdjust="spacingAndGlyphs">You</text><rect x="0" y="11.8" width="24" height="16.6" rx="4.6" fill="#6f6f6f"/><text x="12" y="25.4" font-size="14.2" font-weight="bold" fill="#fff" text-anchor="middle" font-family="Liberation Sans, sans-serif" textLength="19" lengthAdjust="spacingAndGlyphs">Tube</text></g><g transform="translate(541.00 182.90) scale(1 1)"><rect x="-4.20" y="-.6" width="8.40" height="1.2" fill="#6f6f6f"/><path d="M-3.00 -1.6 c-1.2 -1.4 2.3 -1.6 1.8 -3.2 c-.3 -.9 1 -1.5 2.2 -1.3" fill="none" stroke="#6f6f6f" stroke-width=".7" stroke-linecap="round"/></g><g transform="translate(562.00 205.40) rotate(0) scale(0.4000) translate(-12 -14.2)"><text x="12" y="10.4" font-size="14.6" font-weight="bold" fill="#6f6f6f" text-anchor="middle" font-family="Liberation Sans, sans-serif" textLength="15.2" lengthAdjust="spacingAndGlyphs">You</text><rect x="0" y="11.8" width="24" height="16.6" rx="4.6" fill="#6f6f6f"/><text x="12" y="25.4" font-size="14.2" font-weight="bold" fill="#fff" text-anchor="middle" font-family="Liberation Sans, sans-serif" textLength="19" lengthAdjust="spacingAndGlyphs">Tube</text></g><g transform="translate(562.00 197.40) scale(-1 1)"><rect x="-4.20" y="-.6" width="8.40" height="1.2" fill="#6f6f6f"/><path d="M-3.00 -1.6 c-1.2 -1.4 2.3 -1.6 1.8 -3.2 c-.3 -.9 1 -1.5 2.2 -1.3" fill="none" stroke="#6f6f6f" stroke-width=".7" stroke-linecap="round"/></g><path d="M339.3 407.8 V483.5 H461.6" fill="none" stroke="#cfcfcf" stroke-width=".8"/><path d="M339.3 488.5 V550.3 H461.6" fill="none" stroke="#cfcfcf" stroke-width=".8"/><path d="M466.4 407.8 V483.5 H594.6" fill="none" stroke="#cfcfcf" stroke-width=".8"/><path d="M466.4 488.5 V550.3 H594.6" fill="none" stroke="#cfcfcf" stroke-width=".8"/><text x="402.1" y="413.3" font-size="7.4" fill="#4a4a4a" text-anchor="middle" textLength="57.5" lengthAdjust="spacingAndGlyphs">Population Norms</text><text x="535.1" y="413.3" font-size="7.4" fill="#4a4a4a" text-anchor="middle" textLength="68.6" lengthAdjust="spacingAndGlyphs">Individual Use Norms</text><text transform="translate(337.6 420.5) rotate(-90)" font-size="5.6" fill="#8a8a8a" text-anchor="middle">4</text><text transform="translate(337.6 440.3) rotate(-90)" font-size="5.6" fill="#8a8a8a" text-anchor="middle">2</text><text transform="translate(337.6 459.7) rotate(-90)" font-size="5.6" fill="#8a8a8a" text-anchor="middle">0</text><text transform="translate(337.6 479.4) rotate(-90)" font-size="5.6" fill="#8a8a8a" text-anchor="middle">-2</text><text transform="translate(337.6 498.4) rotate(-90)" font-size="5.6" fill="#8a8a8a" text-anchor="middle">4</text><text transform="translate(337.6 515.2) rotate(-90)" font-size="5.6" fill="#8a8a8a" text-anchor="middle">2</text><text transform="translate(337.6 531.8) rotate(-90)" font-size="5.6" fill="#8a8a8a" text-anchor="middle">0</text><text transform="translate(337.6 547.9) rotate(-90)" font-size="5.6" fill="#8a8a8a" text-anchor="middle">-2</text><text transform="translate(331 444.5) rotate(-90)" font-size="5.6" fill="#737373" text-anchor="middle" textLength="62" lengthAdjust="spacingAndGlyphs">Tobacco Norms Coverage</text><text transform="translate(331 521) rotate(-90)" font-size="5.6" fill="#737373" text-anchor="middle" textLength="56.5" lengthAdjust="spacingAndGlyphs">E-cig Norms Coverage</text><text x="356.8" y="557.2" font-size="5.6" fill="#808080" text-anchor="middle">Oct '14</text><text x="487.6" y="557.2" font-size="5.6" fill="#808080" text-anchor="middle">Oct '14</text><text x="375.6" y="557.2" font-size="5.6" fill="#808080" text-anchor="middle">Apr '15</text><text x="507.2" y="557.2" font-size="5.6" fill="#808080" text-anchor="middle">Apr '15</text><text x="394.4" y="557.2" font-size="5.6" fill="#808080" text-anchor="middle">Oct '15</text><text x="526.7" y="557.2" font-size="5.6" fill="#808080" text-anchor="middle">Oct '15</text><text x="413.2" y="557.2" font-size="5.6" fill="#808080" text-anchor="middle">Apr '16</text><text x="546.2" y="557.2" font-size="5.6" fill="#808080" text-anchor="middle">Apr '16</text><text x="432.0" y="557.2" font-size="5.6" fill="#808080" text-anchor="middle">Oct '16</text><text x="565.8" y="557.2" font-size="5.6" fill="#808080" text-anchor="middle">Oct '16</text><text x="450.8" y="557.2" font-size="5.6" fill="#808080" text-anchor="middle">Apr '17</text><text x="585.4" y="557.2" font-size="5.6" fill="#808080" text-anchor="middle">Apr '17</text><path d="M344.0 451.6 C349.0 452.4 364.1 454.9 373.8 456.3 C383.5 457.7 394.9 458.6 402.0 459.9 C409.1 461.2 410.5 462.7 416.3 464.0 C422.1 465.3 430.1 466.4 437.0 467.6 C443.9 468.8 454.0 470.4 457.4 471.0" fill="none" stroke="#72b792" stroke-width="0.62" stroke-linecap="round"/><path d="M344.0 449.7 C349.0 450.7 364.1 454.0 373.8 455.6 C383.5 457.2 394.9 458.1 402.0 459.4 C409.1 460.7 410.5 462.3 416.3 463.6 C422.1 464.9 430.1 466.1 437.0 467.3 C443.9 468.5 454.0 470.2 457.4 470.8" fill="none" stroke="#7fe2c3" stroke-width="0.62" stroke-linecap="round"/><path d="M344.0 526.1 C349.0 526.5 365.5 527.6 373.8 528.7 C382.1 529.9 388.4 532.1 393.6 533.0 C398.8 533.9 398.4 534.0 405.0 534.3 C411.6 534.6 426.6 534.5 433.3 534.8 C440.0 535.1 441.0 535.7 445.0 536.3 C449.0 536.9 455.3 538.2 457.4 538.6" fill="none" stroke="#3f6f57" stroke-width="0.9" stroke-linecap="round"/><path d="M473.6 435.5 C476.1 437.5 483.5 444.0 488.3 447.4 C493.1 450.8 496.4 453.3 502.5 455.9 C508.6 458.5 518.1 461.2 525.2 463.0 C532.3 464.8 537.0 465.4 545.0 466.4 C553.0 467.4 565.5 468.7 573.3 469.2 C581.1 469.7 588.7 469.2 591.8 469.2" fill="none" stroke="#efa0b2" stroke-width="0.62" stroke-linecap="round"/><path d="M473.6 451.1 C478.4 451.7 494.6 453.5 502.5 454.5 C510.4 455.5 514.8 456.0 520.9 457.3 C527.0 458.6 532.9 460.7 539.3 462.4 C545.7 464.1 553.5 466.2 559.2 467.3 C564.9 468.4 567.9 468.8 573.3 469.2 C578.7 469.6 588.7 469.4 591.8 469.5" fill="none" stroke="#72b792" stroke-width="0.62" stroke-linecap="round"/><path d="M476.4 477.7 C479.3 476.8 487.3 474.9 494.0 472.1 C500.7 469.3 510.1 463.5 516.7 460.7 C523.3 457.9 528.0 456.2 533.7 455.1 C539.4 454.0 545.5 454.4 550.7 453.9 C555.9 453.4 560.1 452.2 564.8 452.2 C569.5 452.2 574.5 452.8 579.0 453.9 C583.5 455.0 589.7 458.0 591.8 458.8" fill="none" stroke="#a9d9cb" stroke-width="0.62" stroke-linecap="round"/><path d="M473.6 533.8 C478.4 533.6 493.0 533.3 502.5 532.7 C512.0 532.1 521.3 530.5 530.8 530.2 C540.2 529.9 549.0 530.1 559.2 531.0 C569.4 531.9 586.4 535.0 591.8 535.8" fill="none" stroke="#3f6f57" stroke-width="0.9" stroke-linecap="round"/><path d="M473.6 540.4 C477.5 539.6 489.6 538.1 496.8 535.8 C504.0 533.5 511.0 529.1 516.7 526.8 C522.4 524.5 526.1 522.0 530.8 521.9 C535.5 521.8 539.3 524.1 545.0 525.9 C550.7 527.6 559.1 530.7 564.8 532.4 C570.5 534.1 574.5 535.3 579.0 536.1 C583.5 536.9 589.7 537.0 591.8 537.2" fill="none" stroke="#df5472" stroke-width="0.62" stroke-linecap="round"/><path d="M473.6 539.2 C477.5 538.4 489.6 536.5 496.8 534.6 C504.0 532.7 510.8 529.5 516.7 527.6 C522.7 525.7 527.5 523.3 532.5 523.2 C537.5 523.1 541.6 525.2 547.0 526.8 C552.4 528.4 559.5 531.4 564.8 533.0 C570.1 534.6 574.5 535.8 579.0 536.6 C583.5 537.4 589.7 537.4 591.8 537.6" fill="none" stroke="#efa0b2" stroke-width="0.62" stroke-linecap="round"/><path d="M479.3 548.0 C483.2 546.1 494.9 540.0 502.5 536.7 C510.1 533.4 518.1 530.2 525.2 528.2 C532.3 526.2 539.3 525.5 545.0 524.8 C550.7 524.1 554.5 523.7 559.2 524.2 C563.9 524.7 567.9 525.8 573.3 527.6 C578.7 529.5 588.7 534.0 591.8 535.3" fill="none" stroke="#7266ae" stroke-width="0.62" stroke-linecap="round"/><path d="M481.0 546.0 C484.6 544.3 495.1 538.8 502.5 536.0 C509.9 533.2 518.1 530.6 525.2 529.0 C532.3 527.4 539.3 526.7 545.0 526.2 C550.7 525.7 554.5 525.5 559.2 526.0 C563.9 526.5 567.9 527.3 573.3 529.0 C578.7 530.7 588.7 534.8 591.8 536.0" fill="none" stroke="#afa8d5" stroke-width="0.62" stroke-linecap="round"/><rect x="598.9" y="424.1" width="9.7" height="9.3" fill="#4b7a5e"/><rect x="598.9" y="442.6" width="9.7" height="9.3" fill="#72b792"/><rect x="598.9" y="461.0" width="9.7" height="9.3" fill="#7fe2c3"/><rect x="598.9" y="479.4" width="9.7" height="9.3" fill="#df5472"/><rect x="598.9" y="497.8" width="9.7" height="9.3" fill="#efa0b2"/><rect x="598.9" y="516.2" width="9.7" height="9.3" fill="#7266ae"/><rect x="598.9" y="534.7" width="9.7" height="9.3" fill="#afa8d5"/><g transform="translate(616.8 434.5) scale(0.86) translate(-616.8 -434.5)"><g transform="translate(616.50 429.20) rotate(-14) scale(0.4143) translate(-14 -10)"><path d="M1 4 H6 V19 H3 C1.8 19 1 18.2 1 17 Z" fill="#fff" stroke="#6f6f6f" stroke-width="1.7" stroke-linejoin="round"/><rect x="5" y="1" width="22" height="18" rx="1" fill="#fff" stroke="#6f6f6f" stroke-width="1.7"/><rect x="7.8" y="3.6" width="16.4" height="4.6" fill="#6f6f6f"/><rect x="8" y="10.6" width="7" height="6" fill="#6f6f6f"/><rect x="16.8" y="10.8" width="7.2" height="1.6" fill="#6f6f6f"/><rect x="16.8" y="14.4" width="7.2" height="1.6" fill="#6f6f6f"/></g><g transform="translate(616.40 422.70) scale(1 1)"><rect x="-4.10" y="-.6" width="8.20" height="1.2" fill="#6f6f6f"/><path d="M-2.90 -1.6 c-1.2 -1.4 2.3 -1.6 1.8 -3.2 c-.3 -.9 1 -1.5 2.2 -1.3" fill="none" stroke="#6f6f6f" stroke-width=".7" stroke-linecap="round"/></g></g><g transform="translate(616.8 453.0) scale(0.86) translate(-616.8 -453.0)"><g transform="translate(616.50 447.70) rotate(-14) scale(0.4143) translate(-14 -10)"><path d="M1 4 H6 V19 H3 C1.8 19 1 18.2 1 17 Z" fill="#fff" stroke="#6f6f6f" stroke-width="1.7" stroke-linejoin="round"/><rect x="5" y="1" width="22" height="18" rx="1" fill="#fff" stroke="#6f6f6f" stroke-width="1.7"/><rect x="7.8" y="3.6" width="16.4" height="4.6" fill="#6f6f6f"/><rect x="8" y="10.6" width="7" height="6" fill="#6f6f6f"/><rect x="16.8" y="10.8" width="7.2" height="1.6" fill="#6f6f6f"/><rect x="16.8" y="14.4" width="7.2" height="1.6" fill="#6f6f6f"/></g><g transform="translate(614.90 439.80) scale(-1 1)"><rect x="-3.70" y="-.6" width="7.40" height="1.2" fill="#6f6f6f"/><path d="M-2.50 -1.6 c-1.2 -1.4 2.3 -1.6 1.8 -3.2 c-.3 -.9 1 -1.5 2.2 -1.3" fill="none" stroke="#6f6f6f" stroke-width=".7" stroke-linecap="round"/></g><g transform="translate(621.40 437.60) rotate(0)"><path d="M0 -3.4 L2.4 -.3 H1 V3.3 H-1 V-.3 H-2.4 Z" fill="#6f6f6f"/></g></g><g transform="translate(616.8 471.40000000000003) scale(0.86) translate(-616.8 -471.40000000000003)"><g transform="translate(616.50 466.10) rotate(-14) scale(0.4143) translate(-14 -10)"><path d="M1 4 H6 V19 H3 C1.8 19 1 18.2 1 17 Z" fill="#fff" stroke="#6f6f6f" stroke-width="1.7" stroke-linejoin="round"/><rect x="5" y="1" width="22" height="18" rx="1" fill="#fff" stroke="#6f6f6f" stroke-width="1.7"/><rect x="7.8" y="3.6" width="16.4" height="4.6" fill="#6f6f6f"/><rect x="8" y="10.6" width="7" height="6" fill="#6f6f6f"/><rect x="16.8" y="10.8" width="7.2" height="1.6" fill="#6f6f6f"/><rect x="16.8" y="14.4" width="7.2" height="1.6" fill="#6f6f6f"/></g><g transform="translate(614.90 458.20) scale(-1 1)"><rect x="-3.70" y="-.6" width="7.40" height="1.2" fill="#6f6f6f"/><path d="M-2.50 -1.6 c-1.2 -1.4 2.3 -1.6 1.8 -3.2 c-.3 -.9 1 -1.5 2.2 -1.3" fill="none" stroke="#6f6f6f" stroke-width=".7" stroke-linecap="round"/></g><g transform="translate(621.40 456.00) rotate(180)"><path d="M0 -3.4 L2.4 -.3 H1 V3.3 H-1 V-.3 H-2.4 Z" fill="#6f6f6f"/></g></g><g transform="translate(616.6 489.8) scale(0.95) translate(-616.6 -489.8)"><g transform="translate(616.60 485.10) rotate(0) scale(0.3667) translate(-12 -12)"><path d="M23.953 4.57a10 10 0 01-2.825.775 4.958 4.958 0 002.163-2.723c-.951.555-2.005.959-3.127 1.184a4.92 4.92 0 00-8.384 4.482C7.69 8.095 4.067 6.13 1.64 3.162a4.822 4.822 0 00-.666 2.475c0 1.71.87 3.213 2.188 4.096a4.904 4.904 0 01-2.228-.616v.06a4.923 4.923 0 003.946 4.827 4.996 4.996 0 01-2.212.085 4.936 4.936 0 004.604 3.417 9.867 9.867 0 01-6.102 2.105c-.39 0-.779-.023-1.17-.067a13.995 13.995 0 007.557 2.209c9.053 0 13.998-7.496 13.998-13.985 0-.21 0-.42-.015-.63A9.935 9.935 0 0024 4.59z" fill="#6f6f6f"/></g><g transform="translate(616.60 479.00) scale(1 1)"><rect x="-4.20" y="-.6" width="8.40" height="1.2" fill="#6f6f6f"/><path d="M-3.00 -1.6 c-1.2 -1.4 2.3 -1.6 1.8 -3.2 c-.3 -.9 1 -1.5 2.2 -1.3" fill="none" stroke="#6f6f6f" stroke-width=".7" stroke-linecap="round"/></g></g><g transform="translate(616.6 508.20000000000005) scale(0.95) translate(-616.6 -508.20000000000005)"><g transform="translate(616.60 503.50) rotate(0) scale(0.3667) translate(-12 -12)"><path d="M23.953 4.57a10 10 0 01-2.825.775 4.958 4.958 0 002.163-2.723c-.951.555-2.005.959-3.127 1.184a4.92 4.92 0 00-8.384 4.482C7.69 8.095 4.067 6.13 1.64 3.162a4.822 4.822 0 00-.666 2.475c0 1.71.87 3.213 2.188 4.096a4.904 4.904 0 01-2.228-.616v.06a4.923 4.923 0 003.946 4.827 4.996 4.996 0 01-2.212.085 4.936 4.936 0 004.604 3.417 9.867 9.867 0 01-6.102 2.105c-.39 0-.779-.023-1.17-.067a13.995 13.995 0 007.557 2.209c9.053 0 13.998-7.496 13.998-13.985 0-.21 0-.42-.015-.63A9.935 9.935 0 0024 4.59z" fill="#6f6f6f"/></g><g transform="translate(616.60 497.40) scale(-1 1)"><rect x="-4.20" y="-.6" width="8.40" height="1.2" fill="#6f6f6f"/><path d="M-3.00 -1.6 c-1.2 -1.4 2.3 -1.6 1.8 -3.2 c-.3 -.9 1 -1.5 2.2 -1.3" fill="none" stroke="#6f6f6f" stroke-width=".7" stroke-linecap="round"/></g></g><g transform="translate(616.2 526.7) scale(0.9) translate(-616.2 -526.7)"><g transform="translate(616.20 520.10) rotate(0) scale(0.4000) translate(-12 -14.2)"><text x="12" y="10.4" font-size="14.6" font-weight="bold" fill="#6f6f6f" text-anchor="middle" font-family="Liberation Sans, sans-serif" textLength="15.2" lengthAdjust="spacingAndGlyphs">You</text><rect x="0" y="11.8" width="24" height="16.6" rx="4.6" fill="#6f6f6f"/><text x="12" y="25.4" font-size="14.2" font-weight="bold" fill="#fff" text-anchor="middle" font-family="Liberation Sans, sans-serif" textLength="19" lengthAdjust="spacingAndGlyphs">Tube</text></g><g transform="translate(616.20 512.10) scale(1 1)"><rect x="-4.20" y="-.6" width="8.40" height="1.2" fill="#6f6f6f"/><path d="M-3.00 -1.6 c-1.2 -1.4 2.3 -1.6 1.8 -3.2 c-.3 -.9 1 -1.5 2.2 -1.3" fill="none" stroke="#6f6f6f" stroke-width=".7" stroke-linecap="round"/></g></g><g transform="translate(616.2 545.2) scale(0.9) translate(-616.2 -545.2)"><g transform="translate(616.20 538.60) rotate(0) scale(0.4000) translate(-12 -14.2)"><text x="12" y="10.4" font-size="14.6" font-weight="bold" fill="#6f6f6f" text-anchor="middle" font-family="Liberation Sans, sans-serif" textLength="15.2" lengthAdjust="spacingAndGlyphs">You</text><rect x="0" y="11.8" width="24" height="16.6" rx="4.6" fill="#6f6f6f"/><text x="12" y="25.4" font-size="14.2" font-weight="bold" fill="#fff" text-anchor="middle" font-family="Liberation Sans, sans-serif" textLength="19" lengthAdjust="spacingAndGlyphs">Tube</text></g><g transform="translate(616.20 530.60) scale(-1 1)"><rect x="-4.20" y="-.6" width="8.40" height="1.2" fill="#6f6f6f"/><path d="M-3.00 -1.6 c-1.2 -1.4 2.3 -1.6 1.8 -3.2 c-.3 -.9 1 -1.5 2.2 -1.3" fill="none" stroke="#6f6f6f" stroke-width=".7" stroke-linecap="round"/></g></g></svg>
</body>
</html>
